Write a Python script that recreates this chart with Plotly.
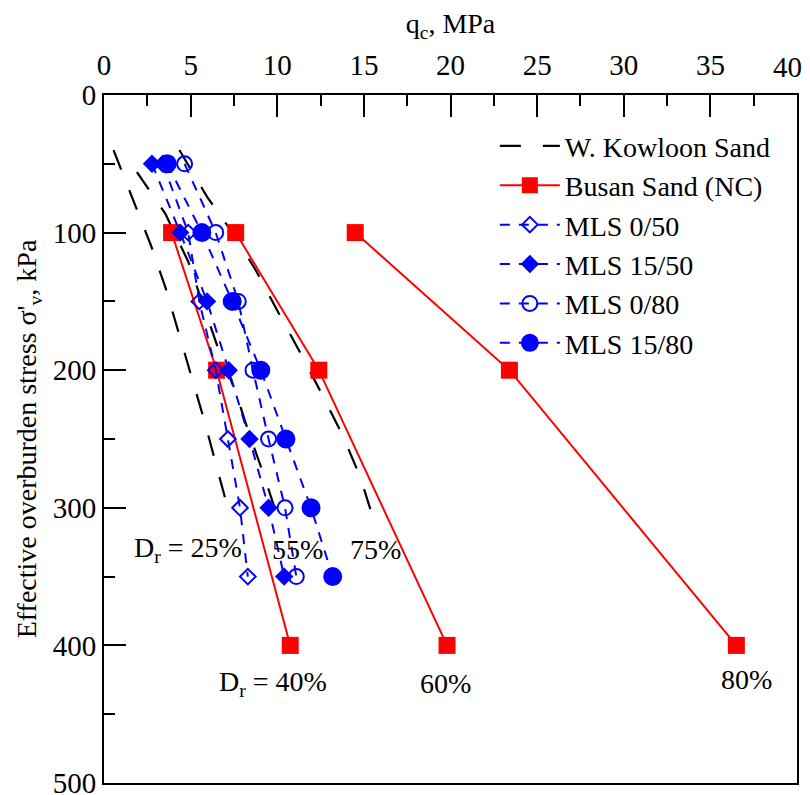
import plotly.graph_objects as go

# ---------------- data ----------------
# W. Kowloon Sand reference lines (Dr = 25%, 55%, 75%)
wk25_sigma = [40, 78, 109, 140, 172, 205, 237, 270, 305]
wk25_qc = [0.55, 1.75, 2.7, 3.55, 4.3, 5.05, 5.8, 6.5, 7.25]
wk55_sigma = [56, 86, 121, 182, 217, 244, 277, 306]
wk55_qc = [1.9, 3.53, 4.86, 6.53, 7.63, 8.32, 9.25, 10.0]
wk75_sigma = [40, 74, 104, 128, 159, 189, 218, 248, 278, 308]
wk75_qc = [4.35, 5.95, 7.63, 8.79, 10.1, 11.4, 12.6, 13.8, 14.8, 15.55]

# Busan Sand (NC), Dr = 40%, 60%, 80%
busan_sigma = [100, 200, 400]
busan40_qc = [3.9, 6.5, 10.75]
busan60_qc = [7.6, 12.4, 19.8]
busan80_qc = [14.5, 23.4, 36.5]

# MLS series
mls_sigma = [50, 100, 150, 200, 250, 300, 350]
mls_0_50 = [3.4, 4.86, 5.5, 6.45, 7.15, 7.85, 8.3]
mls_15_50 = [2.77, 4.4, 5.95, 7.2, 8.4, 9.5, 10.4]
mls_0_80 = [4.65, 6.45, 7.75, 8.6, 9.5, 10.45, 11.1]
mls_15_80 = [3.65, 5.65, 7.4, 9.05, 10.5, 11.95, 13.2]

# tick values
x_ticks = [0, 5, 10, 15, 20, 25, 30, 35]   # the last label (40) is placed as an annotation
x_last_tick = 40
y_ticks = [0, 100, 200, 300, 400, 500]

# annotations
ann_text = ["D<sub>r</sub> = 25%", "55%", "75%", "D<sub>r</sub> = 40%", "60%", "80%"]
ann_x = [4.85, 11.15, 15.65, 9.77, 19.7, 37.1]
ann_y = [330, 330, 330, 428, 428, 425]

FONT = "Liberation Serif"
FS = 28
TICK_FS = 29

fig = go.Figure()

wk_dash = "21px,22px"
for i, (q, s) in enumerate([(wk25_qc, wk25_sigma), (wk55_qc, wk55_sigma), (wk75_qc, wk75_sigma)]):
    fig.add_trace(go.Scatter(
        x=q, y=s, mode="lines", name="W. Kowloon Sand",
        legendgroup="wk", showlegend=(i == 0),
        line=dict(color="black", width=2.2, dash=wk_dash),
    ))

for i, q in enumerate([busan40_qc, busan60_qc, busan80_qc]):
    fig.add_trace(go.Scatter(
        x=q, y=busan_sigma, mode="lines+markers", name="Busan Sand (NC)",
        legendgroup="busan", showlegend=(i == 0),
        line=dict(color="red", width=2),
        marker=dict(symbol="square", size=17, color="red"),
    ))

blue = "#0000ff"
mls_dash = "10px,9px"
series = [
    ("MLS 0/50", mls_0_50, "diamond-open", 12),
    ("MLS 15/50", mls_15_50, "diamond", 12),
    ("MLS 0/80", mls_0_80, "circle-open", 15),
    ("MLS 15/80", mls_15_80, "circle", 17),
]
for name, q, sym, sz in series:
    fig.add_trace(go.Scatter(
        x=q, y=mls_sigma, mode="lines+markers", name=name,
        line=dict(color=blue, width=2, dash=mls_dash),
        marker=dict(symbol=sym, size=sz, color=blue, line=dict(color=blue, width=2)),
    ))

for t, x, y in zip(ann_text, ann_x, ann_y):
    fig.add_annotation(x=x, y=y, text=t, showarrow=False,
                       font=dict(family=FONT, size=FS, color="black"))

# last top tick label, nudged so it stays inside the page
fig.add_annotation(x=x_last_tick, xref="x", y=1, yref="paper", text=str(x_last_tick),
                   showarrow=False, xanchor="center", yanchor="middle",
                   xshift=-10, yshift=28,
                   font=dict(family=FONT, size=TICK_FS, color="black"))

axis_common = dict(
    showline=True, linecolor="black", linewidth=2, mirror=True,
    ticks="inside", ticklen=22, tickwidth=2, tickcolor="black",
    showgrid=False, zeroline=False, automargin=False,
    ticklabeloverflow="allow",
    tickfont=dict(family=FONT, size=TICK_FS, color="black"),
)

fig.update_xaxes(
    side="top", range=[0, 40], tickmode="array", tickvals=x_ticks, ticklabelstandoff=6,
    minor=dict(ticks="inside", ticklen=11, tickwidth=2, tickcolor="black",
               tickmode="linear", tick0=0, dtick=2.5, showgrid=False),
    title=dict(text="q<sub>c</sub>, MPa", font=dict(family=FONT, size=FS, color="black"), standoff=16),
    **axis_common,
)
fig.update_yaxes(
    range=[500, 0], tickmode="array", tickvals=y_ticks,
    minor=dict(ticks="inside", ticklen=11, tickwidth=2, tickcolor="black",
               tickmode="linear", tick0=0, dtick=50, showgrid=False),
    title=dict(text="Effective overburden stress σ'<sub>v</sub>, kPa",
               font=dict(family=FONT, size=FS, color="black"), standoff=8),
    **axis_common,
)

# page body has an 8px margin, so the figure is sized to fit the 810x795 window
fig.update_layout(
    width=802, height=787,
    margin=dict(l=96, r=13, t=87, b=12),
    plot_bgcolor="white", paper_bgcolor="white",
    font=dict(family=FONT, size=FS, color="black"),
    legend=dict(x=0.564, y=0.962, xanchor="left", yanchor="top",
                bgcolor="rgba(0,0,0,0)", borderwidth=0,
                font=dict(family=FONT, size=28, color="black"),
                tracegroupgap=0, itemwidth=60),
    showlegend=True,
)

fig.write_html("out.html")
